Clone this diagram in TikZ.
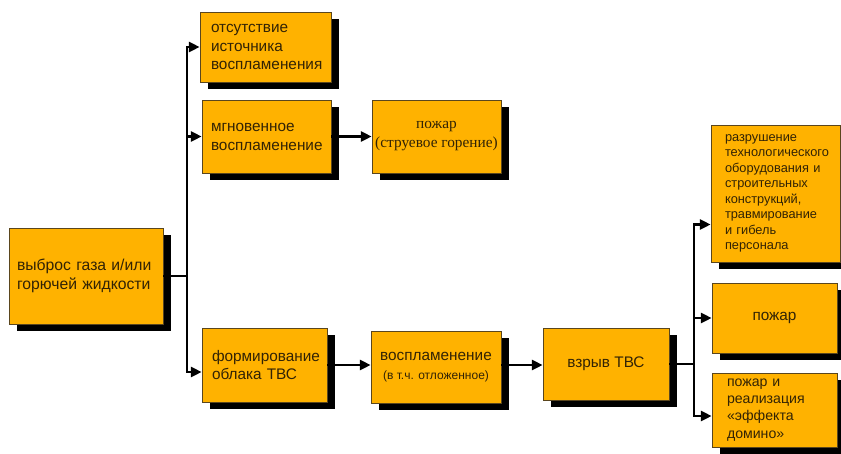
\documentclass[tikz,border=0pt]{standalone}
\usepackage{fontspec}
\setmainfont{Liberation Sans}
\newfontfamily\serifcyr{Liberation Serif}
\usetikzlibrary{shadows,arrows.meta,calc}
\definecolor{boxfill}{RGB}{255,178,0}
\definecolor{boxline}{RGB}{90,70,30}
\definecolor{txt}{RGB}{50,35,5}
\begin{document}
\begin{tikzpicture}[x=0.75pt,y=-0.75pt,
  box/.style={draw=boxline, line width=0.6pt, fill=boxfill, text=txt, inner sep=0pt,
    drop shadow={shadow xshift=6pt, shadow yshift=-5.25pt, fill=black, opacity=1},
    font=\fontsize{11.5}{14.2}\selectfont},
  lbox/.style={box, align=left},
  cbox/.style={box, align=center},
  ln/.style={line width=1.7pt, draw=black},
  arr/.style={ln, -{Triangle[length=8pt,width=7.5pt]}}]
\useasboundingbox (0,0) rectangle (841,453);
% left column
\node[lbox, minimum width=98.25pt, minimum height=52.5pt, text width=81.75pt] (otsut) at (265.5,47)
  {отсутствие\\источника\\воспламенения};
\node[lbox, minimum width=96.75pt, minimum height=54.75pt, text width=83.25pt] (mgnov) at (266.5,136.5)
  {мгновенное\\воспламенение};
\node[cbox, minimum width=96.75pt, minimum height=54.75pt, font=\serifcyr\fontsize{11.5}{14.2}\selectfont] (pozhar1) at (436.5,136.5)
  {пожар\\(струевое горение)};
\node[lbox, minimum width=115.5pt, minimum height=72pt, text width=103.5pt, font=\fontsize{11.8}{14.4}\selectfont] (vybros) at (86,276)
  {выброс газа и/или\\горючей жидкости};
\node[lbox, minimum width=93.75pt, minimum height=55.5pt, text width=78.75pt] (form) at (264.5,365)
  {формирование\\облака ТВС};
\node[cbox, minimum width=97.5pt, minimum height=54pt] (vospl) at (436,367)
  {воспламенение\\{\fontsize{9}{11}\selectfont (в т.ч. отложенное)}};
\node[cbox, minimum width=94.5pt, minimum height=54pt] (vzryv) at (606,364)
  {взрыв ТВС};
% right column
\node[lbox, minimum width=96.75pt, minimum height=102.75pt, text width=75.75pt,
  font=\fontsize{9.6}{11.6}\selectfont] (razr) at (775.5,193.5)
  {разрушение\\технологического\\оборудования и\\строительных\\конструкций,\\травмирование\\и гибель\\персонала};
\node[cbox, minimum width=93.75pt, minimum height=52.5pt] (pozhar2) at (774.5,318)
  {пожар};
\node[lbox, minimum width=93.75pt, minimum height=55.5pt, text width=71.25pt,
  font=\fontsize{10.6}{12.8}\selectfont] (domino) at (774.5,410)
  {пожар и\\реализация\\«эффекта\\домино»};
% connectors
\coordinate (j1) at (187,276);
\draw[ln] (vybros.east) -- (j1);
\draw[arr] (j1) |- (otsut.west);
\draw[arr] (j1) |- (mgnov.west);
\draw[arr] (j1) |- ($(form.west)+(0,7)$);
\draw[arr] (mgnov.east) -- (pozhar1.west);
\draw[arr] (form.east) -- (form.east -| vospl.west);
\draw[arr] (form.east -| vospl.east) -- (form.east -| vzryv.west);
\coordinate (j2) at (694,364);
\draw[ln] (vzryv.east) -- (j2);
\draw[arr] (j2) |- ($(razr.west)+(0,31)$);
\draw[arr] (j2) |- (pozhar2.west);
\draw[arr] (j2) |- ($(domino.west)+(0,6)$);
\end{tikzpicture}
\end{document}
